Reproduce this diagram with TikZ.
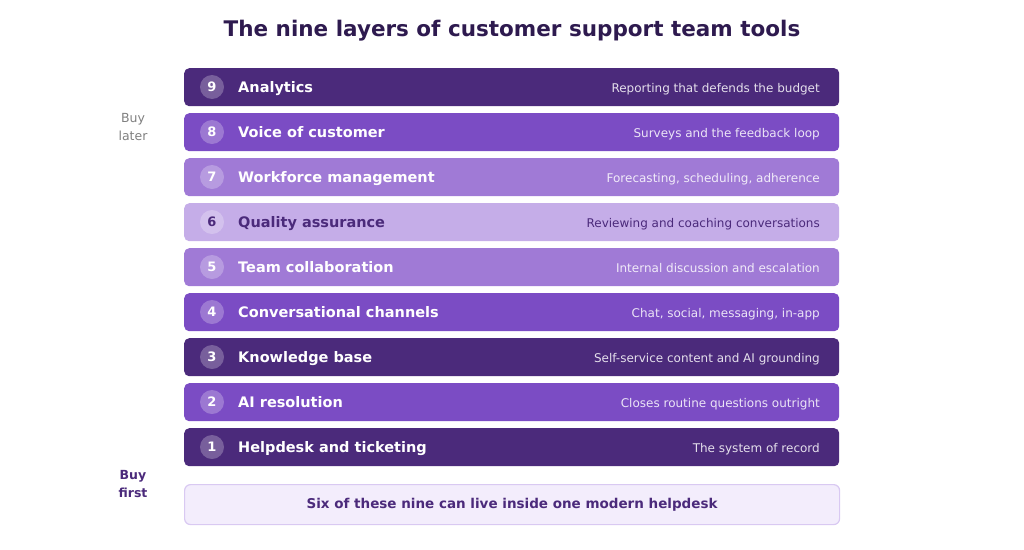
\documentclass[tikz,border=0pt]{standalone}
\usepackage{fontspec}
\setmainfont{DejaVu Sans}
\begin{document}
\definecolor{dk}{HTML}{4B2A7B}
\definecolor{md}{HTML}{7B4CC4}
\definecolor{lt}{HTML}{A07AD6}
\definecolor{xl}{HTML}{C5ADE8}
\definecolor{ftf}{HTML}{F3EDFC}
\definecolor{ftd}{HTML}{D9C9F2}
\definecolor{tt}{HTML}{2E1A4F}
\begin{tikzpicture}[x=1pt,y=-1pt,
 bar/.style={rounded corners=5pt,minimum width=655pt,minimum height=38pt,inner sep=0pt,anchor=north west},
 num/.style={circle,fill=white,fill opacity=0.25,text opacity=1,minimum size=24pt,inner sep=0pt,font=\bfseries\fontsize{13}{15}\selectfont},
 lab/.style={anchor=base west,inner sep=0pt,font=\bfseries\fontsize{14.5}{17}\selectfont},
 desc/.style={anchor=base east,inner sep=0pt,font=\fontsize{12}{14}\selectfont}]
\useasboundingbox (0,0) rectangle (1024,549);
\node[font=\bfseries\fontsize{21.5}{25}\selectfont,text=tt] (title) at (512,31) {The nine layers of customer support team tools};
\foreach \n/\c/\t/\l/\d [count=\i from 0] in {
 9/dk/white/Analytics/Reporting that defends the budget,
 8/md/white/Voice of customer/Surveys and the feedback loop,
 7/lt/white/Workforce management/{Forecasting, scheduling, adherence},
 6/xl/dk/Quality assurance/Reviewing and coaching conversations,
 5/lt/white/Team collaboration/Internal discussion and escalation,
 4/md/white/Conversational channels/{Chat, social, messaging, in-app},
 3/dk/white/Knowledge base/Self-service content and AI grounding,
 2/md/white/AI resolution/Closes routine questions outright,
 1/dk/white/Helpdesk and ticketing/The system of record}{
 \node[bar,fill=\c] (b\n) at (184,68+45*\i) {};
 \node[num,text=\t] (n\n) at (212,87+45*\i) {\n};
 \node[lab,text=\t] (l\n) at (238,92.5+45*\i) {\l};
 \ifnum\n=6 \node[desc,text=dk] (d\n) at (820,92+45*\i) {\d};
 \else \node[desc,text=white,text opacity=0.85] (d\n) at (820,92+45*\i) {\d};\fi
}
\node[font=\fontsize{12.5}{18}\selectfont,text=gray,align=center] (later) at (133,127) {Buy\\later};
\node[font=\bfseries\fontsize{12.5}{18}\selectfont,text=dk,align=center] (first) at (133,484) {Buy\\first};
\node[draw=ftd,line width=1.2pt,fill=ftf,rounded corners=6pt,minimum width=655pt,minimum height=40pt,anchor=north west] (foot) at (184,484) {};
\node[font=\bfseries\fontsize{13.5}{16}\selectfont,text=dk] (ft) at (foot.center) {Six of these nine can live inside one modern helpdesk};
\end{tikzpicture}
\end{document}
